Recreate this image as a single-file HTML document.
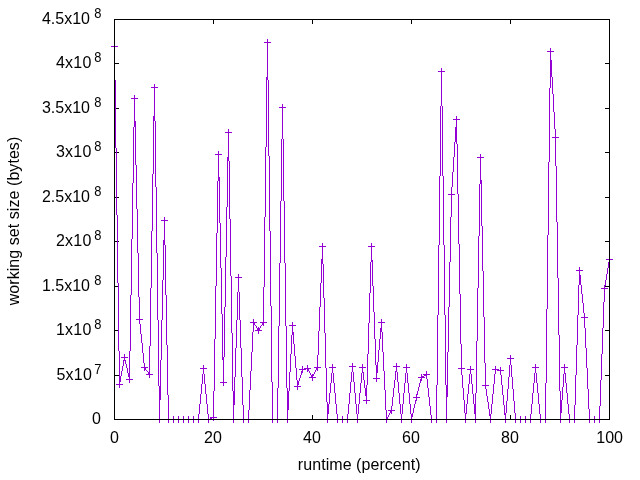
<!DOCTYPE html>
<html><head><meta charset="utf-8"><title>working set size</title>
<style>
html,body{margin:0;padding:0;background:#fff;}
body{width:640px;height:480px;overflow:hidden;}
svg{display:block;}
text{font-family:"Liberation Sans",Arial,sans-serif;font-size:16px;fill:#000;}
</style></head><body>
<svg width="640" height="480" viewBox="0 0 640 480">
<rect width="640" height="480" fill="#fff"/>
<path d="M114 419h5v1h-5z M605 419h5v1h-5z M114 375h5v1h-5z M605 375h5v1h-5z M114 330h5v1h-5z M605 330h5v1h-5z M114 286h5v1h-5z M605 286h5v1h-5z M114 241h5v1h-5z M605 241h5v1h-5z M114 197h5v1h-5z M605 197h5v1h-5z M114 152h5v1h-5z M605 152h5v1h-5z M114 108h5v1h-5z M605 108h5v1h-5z M114 63h5v1h-5z M605 63h5v1h-5z M114 19h5v1h-5z M605 19h5v1h-5z M114 415h1v5h-1z M114 19h1v5h-1z M213 415h1v5h-1z M213 19h1v5h-1z M312 415h1v5h-1z M312 19h1v5h-1z M411 415h1v5h-1z M411 19h1v5h-1z M510 415h1v5h-1z M510 19h1v5h-1z M609 415h1v5h-1z M609 19h1v5h-1z" fill="#000" shape-rendering="crispEdges"/>
<path d="M111 46h1v1h-1zM112 46h1v1h-1zM113 46h1v1h-1zM114 43h1v37h-1zM115 46h1v1h-1zM115 80h1v68h-1zM116 46h1v1h-1zM116 148h1v67h-1zM116 384h1v1h-1zM117 46h1v1h-1zM117 215h1v68h-1zM117 384h1v1h-1zM118 283h1v68h-1zM118 384h1v1h-1zM119 351h1v37h-1zM120 376h1v6h-1zM120 384h1v1h-1zM121 357h1v1h-1zM121 371h1v5h-1zM121 384h1v1h-1zM122 357h1v1h-1zM122 366h1v5h-1zM122 384h1v1h-1zM123 357h1v1h-1zM123 360h1v6h-1zM124 354h1v7h-1zM125 357h1v1h-1zM125 360h1v4h-1zM126 357h1v1h-1zM126 364h1v4h-1zM126 379h1v1h-1zM127 357h1v1h-1zM127 368h1v5h-1zM127 379h1v1h-1zM128 373h1v4h-1zM128 379h1v1h-1zM129 351h1v32h-1zM130 295h1v56h-1zM130 379h1v1h-1zM131 98h1v1h-1zM131 239h1v56h-1zM131 379h1v1h-1zM132 98h1v1h-1zM132 183h1v56h-1zM132 379h1v1h-1zM133 98h1v1h-1zM133 127h1v56h-1zM134 95h1v32h-1zM135 98h1v1h-1zM135 121h1v44h-1zM136 98h1v1h-1zM136 165h1v44h-1zM136 319h1v1h-1zM137 98h1v1h-1zM137 209h1v44h-1zM137 319h1v1h-1zM138 253h1v44h-1zM138 319h1v1h-1zM139 297h1v27h-1zM140 319h1v1h-1zM140 324h1v10h-1zM141 319h1v1h-1zM141 334h1v9h-1zM141 367h1v1h-1zM142 319h1v1h-1zM142 343h1v10h-1zM142 367h1v1h-1zM143 353h1v10h-1zM143 367h1v1h-1zM144 363h1v8h-1zM145 367h1v3h-1zM146 367h1v1h-1zM146 370h1v1h-1zM146 374h1v1h-1zM147 367h1v1h-1zM147 371h1v1h-1zM147 374h1v1h-1zM148 372h1v3h-1zM149 346h1v32h-1zM150 288h1v58h-1zM150 374h1v1h-1zM151 87h1v1h-1zM151 231h1v57h-1zM151 374h1v1h-1zM152 87h1v1h-1zM152 174h1v57h-1zM152 374h1v1h-1zM153 87h1v1h-1zM153 116h1v58h-1zM154 84h1v37h-1zM155 87h1v1h-1zM155 121h1v66h-1zM156 87h1v1h-1zM156 187h1v66h-1zM156 419h1v1h-1zM157 87h1v1h-1zM157 253h1v67h-1zM157 419h1v1h-1zM158 320h1v66h-1zM158 419h1v1h-1zM159 386h1v37h-1zM160 360h1v40h-1zM160 419h1v1h-1zM161 220h1v1h-1zM161 320h1v40h-1zM161 419h1v1h-1zM162 220h1v1h-1zM162 280h1v40h-1zM162 419h1v1h-1zM163 220h1v1h-1zM163 240h1v40h-1zM164 217h1v28h-1zM165 220h1v1h-1zM165 245h1v50h-1zM165 419h1v1h-1zM166 220h1v1h-1zM166 295h1v50h-1zM166 419h1v1h-1zM167 220h1v1h-1zM167 345h1v50h-1zM167 419h1v1h-1zM168 395h1v28h-1zM169 419h1v1h-1zM170 419h1v1h-1zM171 419h1v1h-1zM172 419h1v1h-1zM173 416h1v7h-1zM174 419h1v1h-1zM175 419h1v1h-1zM176 419h1v1h-1zM177 419h1v1h-1zM178 416h1v7h-1zM179 419h1v1h-1zM180 419h1v1h-1zM181 419h1v1h-1zM182 419h1v1h-1zM183 416h1v7h-1zM184 419h1v1h-1zM185 419h1v1h-1zM186 419h1v1h-1zM187 419h1v1h-1zM188 416h1v7h-1zM189 419h1v1h-1zM190 419h1v1h-1zM191 419h1v1h-1zM192 419h1v1h-1zM193 416h1v7h-1zM194 419h1v1h-1zM195 419h1v1h-1zM196 419h1v1h-1zM197 419h1v1h-1zM198 414h1v9h-1zM199 404h1v10h-1zM199 419h1v1h-1zM200 368h1v1h-1zM200 394h1v10h-1zM200 419h1v1h-1zM201 368h1v1h-1zM201 384h1v10h-1zM201 419h1v1h-1zM202 368h1v1h-1zM202 374h1v10h-1zM203 365h1v9h-1zM204 368h1v1h-1zM204 374h1v10h-1zM205 368h1v1h-1zM205 384h1v10h-1zM205 419h1v1h-1zM206 368h1v1h-1zM206 394h1v10h-1zM206 419h1v1h-1zM207 404h1v10h-1zM207 419h1v1h-1zM208 414h1v9h-1zM209 419h1v1h-1zM210 417h1v3h-1zM211 417h1v3h-1zM212 417h1v1h-1zM213 391h1v30h-1zM214 339h1v52h-1zM214 417h1v1h-1zM215 154h1v1h-1zM215 286h1v53h-1zM215 417h1v1h-1zM216 154h1v1h-1zM216 233h1v53h-1zM216 417h1v1h-1zM217 154h1v1h-1zM217 181h1v52h-1zM218 151h1v30h-1zM219 154h1v1h-1zM219 177h1v46h-1zM220 154h1v1h-1zM220 223h1v45h-1zM220 382h1v1h-1zM221 154h1v1h-1zM221 268h1v46h-1zM221 382h1v1h-1zM222 314h1v46h-1zM222 382h1v1h-1zM223 357h1v29h-1zM224 307h1v50h-1zM224 382h1v1h-1zM225 132h1v1h-1zM225 257h1v50h-1zM225 382h1v1h-1zM226 132h1v1h-1zM226 207h1v50h-1zM226 382h1v1h-1zM227 132h1v1h-1zM227 157h1v50h-1zM228 129h1v32h-1zM229 132h1v1h-1zM229 161h1v58h-1zM230 132h1v1h-1zM230 219h1v57h-1zM230 419h1v1h-1zM231 132h1v1h-1zM231 276h1v57h-1zM231 419h1v1h-1zM232 333h1v58h-1zM232 419h1v1h-1zM233 391h1v32h-1zM234 377h1v28h-1zM234 419h1v1h-1zM235 277h1v1h-1zM235 348h1v29h-1zM235 419h1v1h-1zM236 277h1v1h-1zM236 320h1v28h-1zM236 419h1v1h-1zM237 277h1v1h-1zM237 292h1v28h-1zM238 274h1v18h-1zM239 277h1v1h-1zM239 292h1v28h-1zM240 277h1v1h-1zM240 320h1v28h-1zM240 419h1v1h-1zM241 277h1v1h-1zM241 348h1v29h-1zM241 419h1v1h-1zM242 377h1v28h-1zM242 419h1v1h-1zM243 405h1v18h-1zM244 419h1v1h-1zM245 419h1v1h-1zM246 419h1v1h-1zM247 419h1v1h-1zM248 410h1v13h-1zM249 390h1v20h-1zM249 419h1v1h-1zM250 322h1v1h-1zM250 371h1v19h-1zM250 419h1v1h-1zM251 322h1v1h-1zM251 352h1v19h-1zM251 419h1v1h-1zM252 322h1v1h-1zM252 332h1v20h-1zM253 319h1v13h-1zM254 322h1v3h-1zM255 322h1v1h-1zM255 325h1v1h-1zM255 330h1v1h-1zM256 322h1v1h-1zM256 326h1v2h-1zM256 330h1v1h-1zM257 328h1v3h-1zM258 327h1v7h-1zM259 328h1v3h-1zM260 322h1v1h-1zM260 326h1v2h-1zM260 330h1v1h-1zM261 322h1v1h-1zM261 325h1v1h-1zM261 330h1v1h-1zM262 322h1v3h-1zM263 287h1v39h-1zM264 42h1v1h-1zM264 217h1v70h-1zM264 322h1v1h-1zM265 42h1v1h-1zM265 147h1v70h-1zM265 322h1v1h-1zM266 42h1v1h-1zM266 77h1v70h-1zM266 322h1v1h-1zM267 39h1v41h-1zM268 42h1v1h-1zM268 80h1v76h-1zM269 42h1v1h-1zM269 156h1v75h-1zM269 419h1v1h-1zM270 42h1v1h-1zM270 231h1v75h-1zM270 419h1v1h-1zM271 306h1v76h-1zM271 419h1v1h-1zM272 382h1v41h-1zM273 419h1v1h-1zM274 419h1v1h-1zM275 419h1v1h-1zM276 419h1v1h-1zM277 388h1v35h-1zM278 326h1v62h-1zM278 419h1v1h-1zM279 107h1v1h-1zM279 263h1v63h-1zM279 419h1v1h-1zM280 107h1v1h-1zM280 201h1v62h-1zM280 419h1v1h-1zM281 107h1v1h-1zM281 139h1v62h-1zM282 104h1v35h-1zM283 107h1v1h-1zM283 139h1v62h-1zM284 107h1v1h-1zM284 201h1v62h-1zM284 419h1v1h-1zM285 107h1v1h-1zM285 263h1v63h-1zM285 419h1v1h-1zM286 326h1v62h-1zM286 419h1v1h-1zM287 388h1v35h-1zM288 391h1v19h-1zM288 419h1v1h-1zM289 325h1v1h-1zM289 372h1v19h-1zM289 419h1v1h-1zM290 325h1v1h-1zM290 354h1v18h-1zM290 419h1v1h-1zM291 325h1v1h-1zM291 335h1v19h-1zM292 322h1v13h-1zM293 325h1v1h-1zM293 332h1v12h-1zM294 325h1v1h-1zM294 344h1v12h-1zM294 386h1v1h-1zM295 325h1v1h-1zM295 356h1v12h-1zM295 386h1v1h-1zM296 368h1v12h-1zM296 386h1v1h-1zM297 380h1v10h-1zM298 381h1v4h-1zM298 386h1v1h-1zM299 369h1v1h-1zM299 378h1v3h-1zM299 386h1v1h-1zM300 369h1v1h-1zM300 375h1v3h-1zM300 386h1v1h-1zM301 369h1v1h-1zM301 371h1v4h-1zM302 366h1v7h-1zM303 369h1v1h-1zM304 368h1v2h-1zM305 368h1v2h-1zM306 368h1v1h-1zM307 365h1v7h-1zM308 368h1v3h-1zM309 368h1v1h-1zM309 371h1v2h-1zM309 377h1v1h-1zM310 368h1v1h-1zM310 373h1v2h-1zM310 377h1v1h-1zM311 375h1v3h-1zM312 374h1v7h-1zM313 374h1v2h-1zM313 377h1v1h-1zM314 367h1v1h-1zM314 372h1v2h-1zM314 377h1v1h-1zM315 367h1v1h-1zM315 370h1v2h-1zM315 377h1v1h-1zM316 367h1v3h-1zM317 355h1v16h-1zM318 331h1v24h-1zM318 367h1v1h-1zM319 246h1v1h-1zM319 307h1v24h-1zM319 367h1v1h-1zM320 246h1v1h-1zM320 283h1v24h-1zM320 367h1v1h-1zM321 246h1v1h-1zM321 259h1v24h-1zM322 243h1v21h-1zM323 246h1v1h-1zM323 264h1v34h-1zM324 246h1v1h-1zM324 298h1v35h-1zM324 419h1v1h-1zM325 246h1v1h-1zM325 333h1v35h-1zM325 419h1v1h-1zM326 368h1v34h-1zM326 419h1v1h-1zM327 402h1v21h-1zM328 404h1v10h-1zM328 419h1v1h-1zM329 367h1v1h-1zM329 393h1v11h-1zM329 419h1v1h-1zM330 367h1v1h-1zM330 383h1v10h-1zM330 419h1v1h-1zM331 367h1v1h-1zM331 373h1v10h-1zM332 364h1v9h-1zM333 367h1v1h-1zM333 373h1v10h-1zM334 367h1v1h-1zM334 383h1v10h-1zM334 419h1v1h-1zM335 367h1v1h-1zM335 393h1v11h-1zM335 419h1v1h-1zM336 404h1v10h-1zM336 419h1v1h-1zM337 414h1v9h-1zM338 419h1v1h-1zM339 419h1v1h-1zM340 419h1v1h-1zM341 419h1v1h-1zM342 416h1v7h-1zM343 419h1v1h-1zM344 419h1v1h-1zM345 419h1v1h-1zM346 419h1v1h-1zM347 414h1v9h-1zM348 404h1v10h-1zM348 419h1v1h-1zM349 366h1v1h-1zM349 393h1v11h-1zM349 419h1v1h-1zM350 366h1v1h-1zM350 382h1v11h-1zM350 419h1v1h-1zM351 366h1v1h-1zM351 372h1v10h-1zM352 363h1v9h-1zM353 366h1v1h-1zM353 372h1v10h-1zM354 366h1v1h-1zM354 382h1v11h-1zM354 419h1v1h-1zM355 366h1v1h-1zM355 393h1v11h-1zM355 419h1v1h-1zM356 404h1v10h-1zM356 419h1v1h-1zM357 414h1v9h-1zM358 404h1v10h-1zM358 419h1v1h-1zM359 367h1v1h-1zM359 393h1v11h-1zM359 419h1v1h-1zM360 367h1v1h-1zM360 383h1v10h-1zM360 419h1v1h-1zM361 367h1v1h-1zM361 373h1v10h-1zM362 364h1v9h-1zM363 367h1v1h-1zM363 372h1v8h-1zM363 400h1v1h-1zM364 367h1v1h-1zM364 380h1v8h-1zM364 400h1v1h-1zM365 367h1v1h-1zM365 388h1v8h-1zM365 400h1v1h-1zM366 385h1v19h-1zM367 354h1v31h-1zM367 400h1v1h-1zM368 246h1v1h-1zM368 323h1v31h-1zM368 400h1v1h-1zM369 246h1v1h-1zM369 293h1v30h-1zM369 400h1v1h-1zM370 246h1v1h-1zM370 262h1v31h-1zM371 243h1v19h-1zM372 246h1v1h-1zM372 260h1v26h-1zM373 246h1v1h-1zM373 286h1v26h-1zM373 378h1v1h-1zM374 246h1v1h-1zM374 312h1v27h-1zM374 378h1v1h-1zM375 339h1v26h-1zM375 378h1v1h-1zM376 365h1v17h-1zM377 362h1v11h-1zM377 378h1v1h-1zM378 322h1v1h-1zM378 350h1v12h-1zM378 378h1v1h-1zM379 322h1v1h-1zM379 339h1v11h-1zM379 378h1v1h-1zM380 322h1v1h-1zM380 328h1v11h-1zM381 319h1v13h-1zM382 322h1v1h-1zM382 332h1v20h-1zM383 322h1v1h-1zM383 352h1v19h-1zM383 419h1v1h-1zM384 322h1v1h-1zM384 371h1v19h-1zM384 419h1v1h-1zM385 390h1v20h-1zM385 419h1v1h-1zM386 410h1v13h-1zM387 417h1v3h-1zM388 410h1v1h-1zM388 415h1v2h-1zM388 419h1v1h-1zM389 410h1v1h-1zM389 413h1v2h-1zM389 419h1v1h-1zM390 410h1v3h-1zM391 406h1v8h-1zM392 397h1v9h-1zM392 410h1v1h-1zM393 366h1v1h-1zM393 388h1v9h-1zM393 410h1v1h-1zM394 366h1v1h-1zM394 380h1v8h-1zM394 410h1v1h-1zM395 366h1v1h-1zM395 371h1v9h-1zM396 363h1v9h-1zM397 366h1v1h-1zM397 372h1v10h-1zM398 366h1v1h-1zM398 382h1v11h-1zM398 419h1v1h-1zM399 366h1v1h-1zM399 393h1v11h-1zM399 419h1v1h-1zM400 404h1v10h-1zM400 419h1v1h-1zM401 414h1v9h-1zM402 404h1v10h-1zM402 419h1v1h-1zM403 367h1v1h-1zM403 393h1v11h-1zM403 419h1v1h-1zM404 367h1v1h-1zM404 383h1v10h-1zM404 419h1v1h-1zM405 367h1v1h-1zM405 373h1v10h-1zM406 364h1v9h-1zM407 367h1v1h-1zM407 373h1v10h-1zM408 367h1v1h-1zM408 383h1v10h-1zM408 419h1v1h-1zM409 367h1v1h-1zM409 393h1v11h-1zM409 419h1v1h-1zM410 404h1v10h-1zM410 419h1v1h-1zM411 414h1v9h-1zM412 413h1v4h-1zM412 419h1v1h-1zM413 397h1v1h-1zM413 408h1v5h-1zM413 419h1v1h-1zM414 397h1v1h-1zM414 404h1v4h-1zM414 419h1v1h-1zM415 397h1v1h-1zM415 400h1v4h-1zM416 394h1v7h-1zM417 391h1v4h-1zM417 397h1v1h-1zM418 377h1v1h-1zM418 387h1v4h-1zM418 397h1v1h-1zM419 377h1v1h-1zM419 383h1v4h-1zM419 397h1v1h-1zM420 377h1v1h-1zM420 379h1v4h-1zM421 374h1v7h-1zM422 376h1v2h-1zM423 374h1v1h-1zM423 376h1v2h-1zM424 374h1v2h-1zM424 377h1v1h-1zM425 374h1v2h-1zM426 371h1v8h-1zM427 374h1v1h-1zM427 379h1v9h-1zM428 374h1v1h-1zM428 388h1v9h-1zM428 419h1v1h-1zM429 374h1v1h-1zM429 397h1v9h-1zM429 419h1v1h-1zM430 406h1v9h-1zM430 419h1v1h-1zM431 415h1v8h-1zM432 419h1v1h-1zM433 419h1v1h-1zM434 419h1v1h-1zM435 419h1v1h-1zM436 385h1v38h-1zM437 315h1v70h-1zM437 419h1v1h-1zM438 71h1v1h-1zM438 245h1v70h-1zM438 419h1v1h-1zM439 71h1v1h-1zM439 176h1v69h-1zM439 419h1v1h-1zM440 71h1v1h-1zM440 106h1v70h-1zM441 68h1v38h-1zM442 71h1v1h-1zM442 106h1v70h-1zM443 71h1v1h-1zM443 176h1v69h-1zM443 419h1v1h-1zM444 71h1v1h-1zM444 245h1v70h-1zM444 419h1v1h-1zM445 315h1v70h-1zM445 419h1v1h-1zM446 385h1v38h-1zM447 352h1v45h-1zM447 419h1v1h-1zM448 194h1v1h-1zM448 307h1v45h-1zM448 419h1v1h-1zM449 194h1v1h-1zM449 262h1v45h-1zM449 419h1v1h-1zM450 194h1v1h-1zM450 217h1v45h-1zM451 187h1v30h-1zM452 172h1v15h-1zM452 194h1v1h-1zM453 119h1v1h-1zM453 157h1v15h-1zM453 194h1v1h-1zM454 119h1v1h-1zM454 142h1v15h-1zM454 194h1v1h-1zM455 119h1v1h-1zM455 127h1v15h-1zM456 116h1v28h-1zM457 119h1v1h-1zM457 144h1v50h-1zM458 119h1v1h-1zM458 194h1v50h-1zM458 368h1v1h-1zM459 119h1v1h-1zM459 244h1v50h-1zM459 368h1v1h-1zM460 294h1v50h-1zM460 368h1v1h-1zM461 344h1v31h-1zM462 368h1v1h-1zM462 375h1v13h-1zM462 419h1v1h-1zM463 368h1v1h-1zM463 388h1v12h-1zM463 419h1v1h-1zM464 368h1v1h-1zM464 400h1v13h-1zM464 419h1v1h-1zM465 413h1v10h-1zM466 404h1v10h-1zM466 419h1v1h-1zM467 369h1v1h-1zM467 394h1v10h-1zM467 419h1v1h-1zM468 369h1v1h-1zM468 384h1v10h-1zM468 419h1v1h-1zM469 369h1v1h-1zM469 374h1v10h-1zM470 366h1v8h-1zM471 369h1v1h-1zM471 374h1v10h-1zM472 369h1v1h-1zM472 384h1v10h-1zM472 419h1v1h-1zM473 369h1v1h-1zM473 394h1v10h-1zM473 419h1v1h-1zM474 404h1v10h-1zM474 419h1v1h-1zM475 393h1v30h-1zM476 341h1v52h-1zM476 419h1v1h-1zM477 157h1v1h-1zM477 288h1v53h-1zM477 419h1v1h-1zM478 157h1v1h-1zM478 236h1v52h-1zM478 419h1v1h-1zM479 157h1v1h-1zM479 184h1v52h-1zM480 154h1v30h-1zM481 157h1v1h-1zM481 180h1v46h-1zM482 157h1v1h-1zM482 226h1v45h-1zM482 385h1v1h-1zM483 157h1v1h-1zM483 271h1v46h-1zM483 385h1v1h-1zM484 317h1v46h-1zM484 385h1v1h-1zM485 363h1v26h-1zM486 385h1v1h-1zM486 389h1v7h-1zM487 385h1v1h-1zM487 396h1v6h-1zM487 419h1v1h-1zM488 385h1v1h-1zM488 402h1v7h-1zM488 419h1v1h-1zM489 409h1v7h-1zM489 419h1v1h-1zM490 414h1v9h-1zM491 404h1v10h-1zM491 419h1v1h-1zM492 369h1v1h-1zM492 394h1v10h-1zM492 419h1v1h-1zM493 369h1v1h-1zM493 384h1v10h-1zM493 419h1v1h-1zM494 369h1v1h-1zM494 374h1v10h-1zM495 366h1v8h-1zM496 369h1v1h-1zM497 369h1v2h-1zM498 369h1v2h-1zM499 370h1v1h-1zM500 367h1v8h-1zM501 370h1v1h-1zM501 375h1v10h-1zM502 370h1v1h-1zM502 385h1v10h-1zM502 419h1v1h-1zM503 370h1v1h-1zM503 395h1v10h-1zM503 419h1v1h-1zM504 405h1v10h-1zM504 419h1v1h-1zM505 413h1v10h-1zM506 401h1v12h-1zM506 419h1v1h-1zM507 358h1v1h-1zM507 389h1v12h-1zM507 419h1v1h-1zM508 358h1v1h-1zM508 377h1v12h-1zM508 419h1v1h-1zM509 358h1v1h-1zM509 365h1v12h-1zM510 355h1v10h-1zM511 358h1v1h-1zM511 365h1v12h-1zM512 358h1v1h-1zM512 377h1v12h-1zM512 419h1v1h-1zM513 358h1v1h-1zM513 389h1v12h-1zM513 419h1v1h-1zM514 401h1v12h-1zM514 419h1v1h-1zM515 413h1v10h-1zM516 419h1v1h-1zM517 419h1v1h-1zM518 419h1v1h-1zM519 419h1v1h-1zM520 416h1v7h-1zM521 419h1v1h-1zM522 419h1v1h-1zM523 419h1v1h-1zM524 419h1v1h-1zM525 416h1v7h-1zM526 419h1v1h-1zM527 419h1v1h-1zM528 419h1v1h-1zM529 419h1v1h-1zM530 414h1v9h-1zM531 404h1v10h-1zM531 419h1v1h-1zM532 367h1v1h-1zM532 393h1v11h-1zM532 419h1v1h-1zM533 367h1v1h-1zM533 383h1v10h-1zM533 419h1v1h-1zM534 367h1v1h-1zM534 373h1v10h-1zM535 364h1v9h-1zM536 367h1v1h-1zM536 373h1v10h-1zM537 367h1v1h-1zM537 383h1v10h-1zM537 419h1v1h-1zM538 367h1v1h-1zM538 393h1v11h-1zM538 419h1v1h-1zM539 404h1v10h-1zM539 419h1v1h-1zM540 414h1v9h-1zM541 419h1v1h-1zM542 419h1v1h-1zM543 419h1v1h-1zM544 419h1v1h-1zM545 383h1v40h-1zM546 309h1v74h-1zM546 419h1v1h-1zM547 51h1v1h-1zM547 235h1v74h-1zM547 419h1v1h-1zM548 51h1v1h-1zM548 162h1v73h-1zM548 419h1v1h-1zM549 51h1v1h-1zM549 88h1v74h-1zM550 48h1v40h-1zM551 51h1v1h-1zM551 60h1v17h-1zM552 51h1v1h-1zM552 77h1v17h-1zM552 137h1v1h-1zM553 51h1v1h-1zM553 94h1v18h-1zM553 137h1v1h-1zM554 112h1v17h-1zM554 137h1v1h-1zM555 129h1v37h-1zM556 137h1v1h-1zM556 166h1v56h-1zM557 137h1v1h-1zM557 222h1v56h-1zM557 419h1v1h-1zM558 137h1v1h-1zM558 278h1v57h-1zM558 419h1v1h-1zM559 335h1v56h-1zM559 419h1v1h-1zM560 391h1v32h-1zM561 367h1v1h-1zM561 400h1v13h-1zM561 419h1v1h-1zM562 367h1v1h-1zM562 387h1v13h-1zM562 419h1v1h-1zM563 367h1v1h-1zM563 374h1v13h-1zM563 419h1v1h-1zM564 364h1v10h-1zM565 367h1v1h-1zM565 373h1v10h-1zM566 367h1v1h-1zM566 383h1v10h-1zM566 419h1v1h-1zM567 367h1v1h-1zM567 393h1v11h-1zM567 419h1v1h-1zM568 404h1v10h-1zM568 419h1v1h-1zM569 414h1v9h-1zM570 419h1v1h-1zM571 419h1v1h-1zM572 419h1v1h-1zM573 419h1v1h-1zM574 405h1v18h-1zM575 375h1v30h-1zM575 419h1v1h-1zM576 270h1v1h-1zM576 345h1v30h-1zM576 419h1v1h-1zM577 270h1v1h-1zM577 315h1v30h-1zM577 419h1v1h-1zM578 270h1v1h-1zM578 285h1v30h-1zM579 267h1v18h-1zM580 270h1v1h-1zM580 275h1v10h-1zM581 270h1v1h-1zM581 285h1v9h-1zM581 317h1v1h-1zM582 270h1v1h-1zM582 294h1v9h-1zM582 317h1v1h-1zM583 303h1v10h-1zM583 317h1v1h-1zM584 313h1v15h-1zM585 317h1v1h-1zM585 328h1v20h-1zM586 317h1v1h-1zM586 348h1v20h-1zM586 419h1v1h-1zM587 317h1v1h-1zM587 368h1v21h-1zM587 419h1v1h-1zM588 389h1v20h-1zM588 419h1v1h-1zM589 409h1v14h-1zM590 419h1v1h-1zM591 419h1v1h-1zM592 419h1v1h-1zM593 419h1v1h-1zM594 416h1v7h-1zM595 419h1v1h-1zM596 419h1v1h-1zM597 419h1v1h-1zM598 419h1v1h-1zM599 406h1v17h-1zM600 380h1v26h-1zM600 419h1v1h-1zM601 288h1v1h-1zM601 354h1v26h-1zM601 419h1v1h-1zM602 288h1v1h-1zM602 328h1v26h-1zM602 419h1v1h-1zM603 288h1v1h-1zM603 302h1v26h-1zM604 285h1v17h-1zM605 280h1v6h-1zM605 288h1v1h-1zM606 259h1v1h-1zM606 274h1v6h-1zM606 288h1v1h-1zM607 259h1v1h-1zM607 268h1v6h-1zM607 288h1v1h-1zM608 259h1v1h-1zM608 262h1v6h-1zM609 256h1v7h-1zM610 259h1v1h-1zM611 259h1v1h-1zM612 259h1v1h-1z" fill="#9400d3" shape-rendering="crispEdges"/>
<path d="M114 19h496v1h-496z M114 419h496v1h-496z M114 19h1v401h-1z M609 19h1v401h-1z" fill="#000" shape-rendering="crispEdges"/>
<text x="101" y="424" text-anchor="end">0</text>
<text x="92.0" y="380" text-anchor="end" style="letter-spacing:0.2px">5x10</text>
<text transform="translate(101.5,373.5) scale(0.89,1)" text-anchor="end" style="font-size:14.5px">7</text>
<text x="91.5" y="335" text-anchor="end" style="letter-spacing:0.2px">1x10</text>
<text transform="translate(101.5,328.5) scale(0.89,1)" text-anchor="end" style="font-size:14.5px">8</text>
<text x="90" y="291" text-anchor="end">1.5x10</text>
<text transform="translate(101.5,284.5) scale(0.89,1)" text-anchor="end" style="font-size:14.5px">8</text>
<text x="91.5" y="246" text-anchor="end" style="letter-spacing:0.2px">2x10</text>
<text transform="translate(101.5,239.5) scale(0.89,1)" text-anchor="end" style="font-size:14.5px">8</text>
<text x="90" y="202" text-anchor="end">2.5x10</text>
<text transform="translate(101.5,195.5) scale(0.89,1)" text-anchor="end" style="font-size:14.5px">8</text>
<text x="91.5" y="157" text-anchor="end" style="letter-spacing:0.2px">3x10</text>
<text transform="translate(101.5,150.5) scale(0.89,1)" text-anchor="end" style="font-size:14.5px">8</text>
<text x="90" y="113" text-anchor="end">3.5x10</text>
<text transform="translate(101.5,106.5) scale(0.89,1)" text-anchor="end" style="font-size:14.5px">8</text>
<text x="91.5" y="68" text-anchor="end" style="letter-spacing:0.2px">4x10</text>
<text transform="translate(101.5,61.5) scale(0.89,1)" text-anchor="end" style="font-size:14.5px">8</text>
<text x="90" y="24" text-anchor="end">4.5x10</text>
<text transform="translate(101.5,17.5) scale(0.89,1)" text-anchor="end" style="font-size:14.5px">8</text>
<text x="114.4" y="442.5" text-anchor="middle">0</text>
<text x="212.9" y="442.5" text-anchor="middle">20</text>
<text x="311.9" y="442.5" text-anchor="middle">40</text>
<text x="410.9" y="442.5" text-anchor="middle">60</text>
<text x="509.9" y="442.5" text-anchor="middle">80</text>
<text x="609.6" y="442.5" text-anchor="middle">100</text>
<text x="359.25" y="470.4" text-anchor="middle" style="letter-spacing:0.06px">runtime (percent)</text>
<text transform="translate(19,221) rotate(-90)" text-anchor="middle" style="letter-spacing:0.06px">working set size (bytes)</text>
</svg>
</body></html>
